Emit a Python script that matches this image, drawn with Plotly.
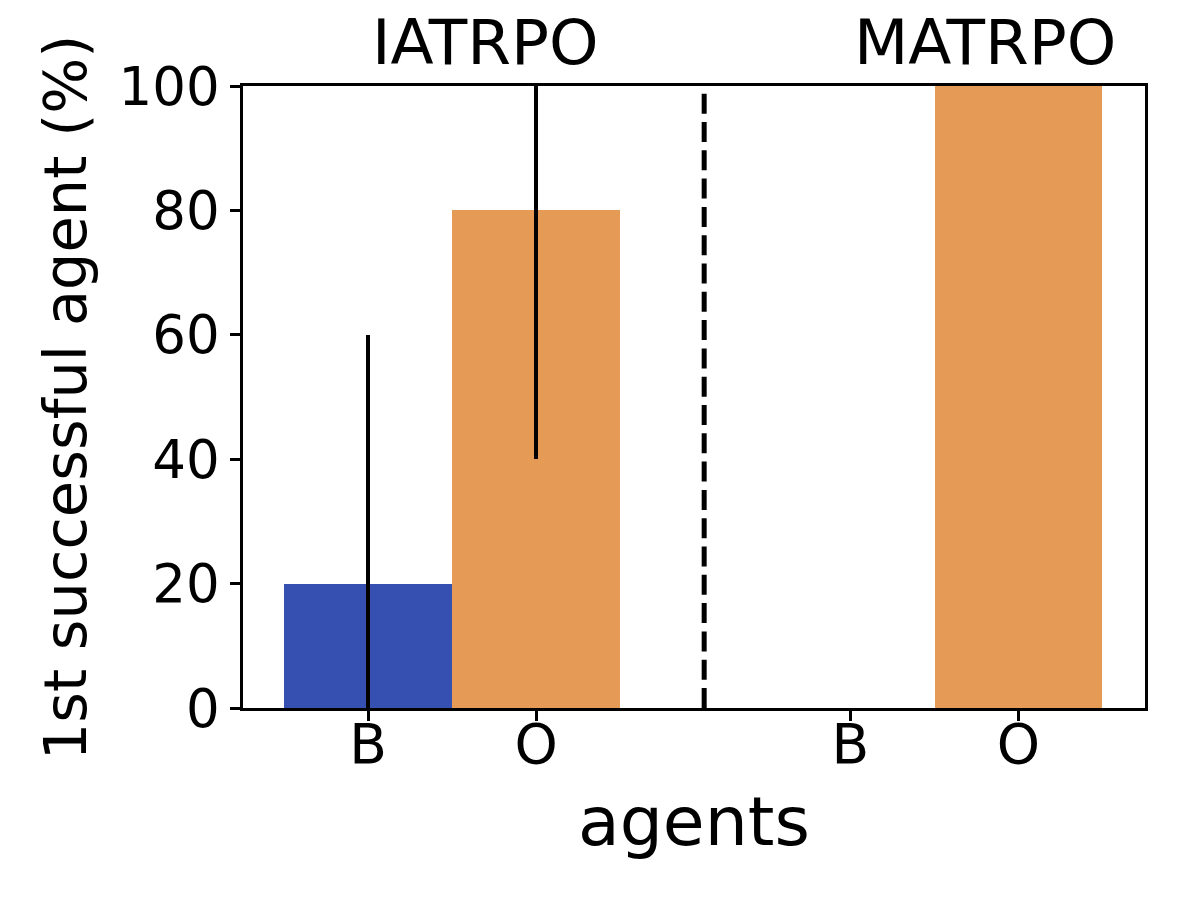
import plotly.graph_objects as go

# ---- data ----
groups = ["IATRPO", "MATRPO"]
agents = ["B", "O"]
iatrpo_vals = [20, 80]
iatrpo_err = [40, 40]
matrpo_vals = [0, 100]
matrpo_err = [0, 0]
y_ticks = [0, 20, 40, 60, 80, 100]

# ---- style ----
BLUE = "#3550b1"
ORANGE = "#e59a55"
FONT = "DejaVu Sans"

group_offset = [0.0, 2.87]      # where each group starts on the x axis
divider_x = 2.0

xs, ys, errs, cols, ticktext = [], [], [], [], []
for g, off in enumerate(group_offset):
    vals = [iatrpo_vals, matrpo_vals][g]
    er = [iatrpo_err, matrpo_err][g]
    for i, a in enumerate(agents):
        xs.append(off + i)
        ys.append(vals[i])
        errs.append(er[i])
        cols.append(BLUE if a == "B" else ORANGE)
        ticktext.append(a)

fig = go.Figure()
fig.add_trace(go.Bar(
    x=xs, y=ys, width=0.995,
    marker=dict(color=cols, line=dict(width=0)),
    error_y=dict(type="data", array=errs, color="black", thickness=3.5, width=0),
    showlegend=False,
))

# dashed separator between the two methods
fig.add_trace(go.Scatter(
    x=[divider_x, divider_x], y=[0, 100], mode="lines",
    line=dict(color="black", width=5, dash="20px,8.3px"),
    showlegend=False, hoverinfo="skip",
))

txt = dict(showarrow=False, xanchor="center", yanchor="middle")

# method titles above the plot
fig.add_annotation(text=groups[0], x=0.70, xref="x", y=1.07, yref="paper",
                   font=dict(family=FONT, size=63, color="black"), **txt)
fig.add_annotation(text=groups[1], x=3.67, xref="x", y=1.07, yref="paper",
                   font=dict(family=FONT, size=63, color="black"), **txt)

# axis labels
fig.add_annotation(text="agents", x=0.5, xref="paper", y=-0.1825, yref="paper",
                   font=dict(family=FONT, size=68, color="black"), **txt)
fig.add_annotation(text="1st successful agent (%)", x=-0.197, xref="paper", y=0.5, yref="paper",
                   textangle=-90, font=dict(family=FONT, size=59, color="black"), **txt)

axis_common = dict(
    showline=True, linecolor="black", linewidth=2.5, mirror=True,
    ticks="outside", ticklen=10, tickwidth=2.5, tickcolor="black",
    showgrid=False, zeroline=False,
)

fig.update_layout(
    width=1196, height=904,
    margin=dict(l=243, r=51, t=86, b=196),
    plot_bgcolor="white", paper_bgcolor="white",
    xaxis=dict(range=[-0.744, 4.623], tickvals=xs, ticktext=ticktext,
               tickfont=dict(family=FONT, size=55, color="black"),
               ticklabelstandoff=-24, **axis_common),
    yaxis=dict(range=[0, 100], tickvals=y_ticks,
               tickfont=dict(family=FONT, size=53, color="black"), **axis_common),
    bargap=0,
)

# drop the default body margin so the figure sits at the page corner
fig.write_html("out.html", config={"displayModeBar": False},
               post_script="document.body.style.margin='0';")
